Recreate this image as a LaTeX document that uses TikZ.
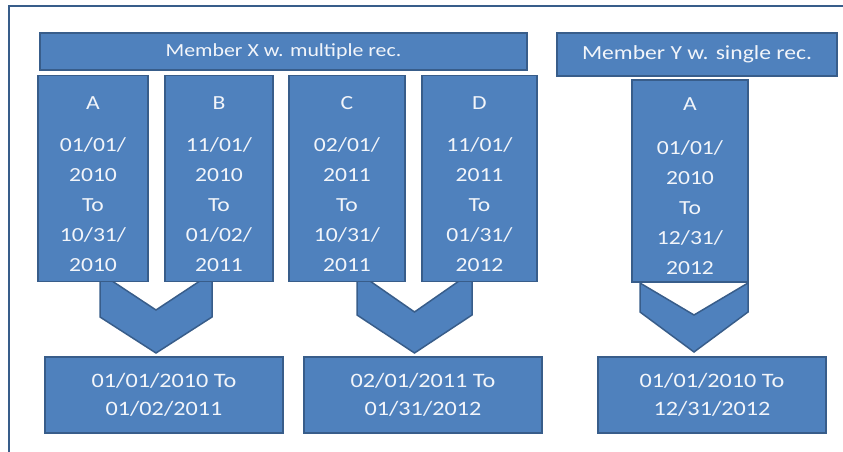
\documentclass[tikz,border=0pt]{standalone}
\usepackage{fontspec}
\setmainfont{Carlito}[FakeStretch=1.18]
\usepackage{tikz}
\definecolor{boxblue}{HTML}{4F81BD}
\definecolor{edgeblue}{HTML}{385D8A}
\definecolor{textwhite}{HTML}{F2F5FA}

\newcommand{\toppad}{\rule{0pt}{24pt}}

\tikzset{
  blk/.style={draw=edgeblue, fill=boxblue, line width=1.5pt, text=textwhite, align=center, inner sep=0pt},
  hdr/.style={blk},
  rec/.style={blk, minimum height=206pt, font=\fontsize{20}{30}\selectfont},
  res/.style={blk, minimum height=76pt, font=\fontsize{20.5}{28}\selectfont},
  chev/.style={draw=edgeblue, fill=boxblue, line width=1.5pt, line join=miter}
}

\begin{document}
\begin{tikzpicture}[x=1pt,y=-1pt]

	\useasboundingbox (0,0) rectangle (843,452);

	% frame
	\draw[edgeblue, line width=2pt] (9,452) -- (9,6) -- (843,6);

	% merge arrows
	\foreach \cx/\hw/\top/\notch/\side/\tip in {156/56/273/310/317/353, 414.5/57.5/272/312/315/353, 694/54/283/315/312/352}
	  \draw[chev] (\cx-\hw,\top) -- (\cx,\notch) -- (\cx+\hw,\top) -- (\cx+\hw,\side) -- (\cx,\tip) -- (\cx-\hw,\side) -- cycle;

	% headers
	\node[hdr, minimum width=487pt, minimum height=37pt, font=\fontsize{18.5}{22}\selectfont] (memX) at (283.5,51.5) {Member X w. multiple rec.};
	\node[hdr, minimum width=280pt, minimum height=43pt, font=\fontsize{20}{24}\selectfont] (memY) at (697,54.5) {Member Y w. single rec.};

	% records
	\node[rec, minimum width=110pt] (recA) at (93,178.5) {\toppad A\\[12pt]01/01/\\2010\\To\\10/31/\\2010};
	\node[rec, minimum width=108pt] (recB) at (219,178.5) {\toppad B\\[12pt]11/01/\\2010\\To\\01/02/\\2011};
	\node[rec, minimum width=116pt] (recC) at (347,178.5) {\toppad C\\[12pt]02/01/\\2011\\To\\10/31/\\2011};
	\node[rec, minimum width=115pt] (recD) at (479.5,178.5) {\toppad D\\[12pt]11/01/\\2011\\To\\01/31/\\2012};
	\node[rec, minimum width=116pt, minimum height=202pt] (recYA) at (690,181) {\toppad A\\[14pt]01/01/\\2010\\To\\12/31/\\2012};

	% results
	\node[res, minimum width=238pt] (outAB) at (164,395) {01/01/2010 To\\01/02/2011};
	\node[res, minimum width=238pt] (outCD) at (423,395) {02/01/2011 To\\01/31/2012};
	\node[res, minimum width=228pt] (outY) at (712,395) {01/01/2010 To\\12/31/2012};

\end{tikzpicture}
\end{document}
